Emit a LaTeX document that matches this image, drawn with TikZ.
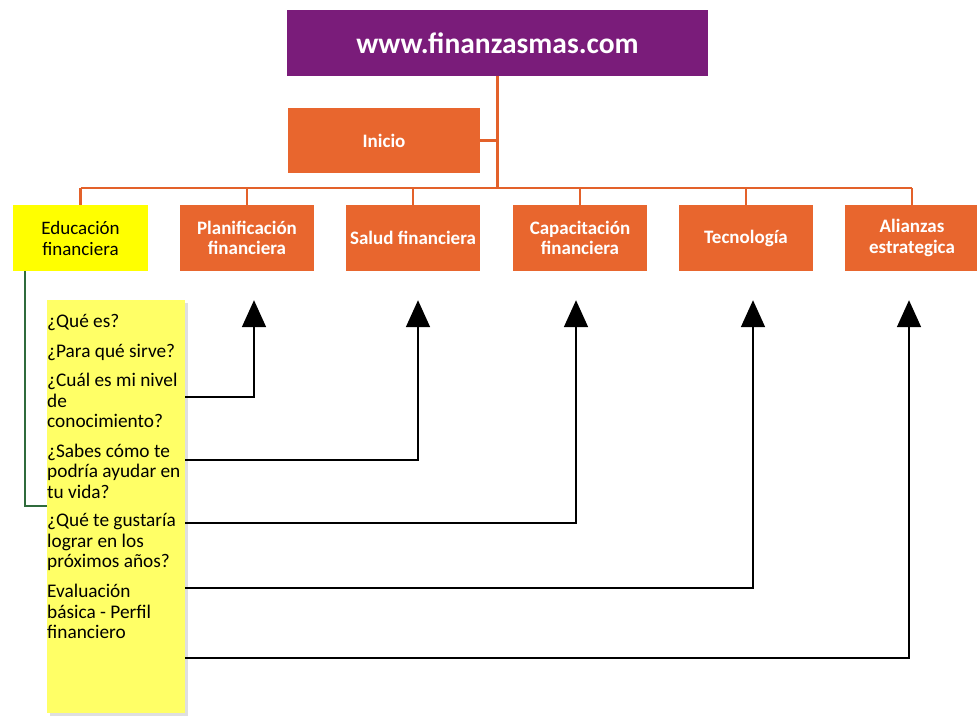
\documentclass[tikz,border=0pt]{standalone}
\usepackage{fontspec}
\setmainfont{Carlito}
\usetikzlibrary{arrows.meta,shadows}
\definecolor{purp}{HTML}{7A1C7A}
\definecolor{orng}{HTML}{E8662E}
\definecolor{oline}{HTML}{E3612A}
\definecolor{ylw}{HTML}{FFFF00}
\definecolor{pylw}{HTML}{FFFF66}
\definecolor{grn}{HTML}{2F6B3C}
\tikzset{
  obox/.style={fill=orng, text=white, font=\bfseries\fontsize{19}{20.5}\selectfont, align=center,
    minimum width=134pt, minimum height=66pt, inner sep=0pt},
  oline/.style={draw=oline, line width=2.2pt},
  qtext/.style={anchor=west, align=left, inner sep=0pt,
    font=\fontsize{19.3}{20.4}\selectfont, text=black},
  arr/.style={draw=black, line width=1.8pt, -{Triangle[width=24pt,length=27pt]}},
}
\begin{document}
\begin{tikzpicture}[x=1pt,y=-1pt]
\useasboundingbox (0,0) rectangle (977,717);
% top
\node[fill=purp, text=white, font=\bfseries\fontsize{29.5}{32}\selectfont, minimum width=421pt, minimum height=66pt, inner sep=0pt] (web) at (497.5,43) {www.finanzasmas.com};
\node[obox, minimum width=192pt, minimum height=65pt] (inicio) at (384,140.5) {Inicio};
\coordinate (hub) at (497,188);
% second row
\node[fill=ylw, text=black, font=\fontsize{19}{21}\selectfont, align=center, minimum width=135pt, minimum height=66pt, inner sep=0pt] (edu) at (80.5,238) {Educación\\financiera};
\node[obox] (plan) at (247,238) {Planificación\\financiera};
\node[obox] (salud) at (413,238) {Salud financiera};
\node[obox] (cap) at (580,238) {Capacitación\\financiera};
\node[obox] (tec) at (746,238) {Tecnología};
\node[obox] (ali) at (912,238) {Alianzas\\estrategica};
% orange connectors
\draw[oline] (web.south) -- (web.south |- hub);
\draw[oline] (inicio.east) -- (inicio.east -| web.south);
\draw[oline] (edu.north |- hub) -- (ali.north |- hub);
\foreach \n in {edu,plan,salud,cap,tec,ali} \draw[oline] (\n.north |- hub) -- (\n.north);
% question box
\node[fill=pylw, minimum width=138pt, minimum height=413pt, inner sep=0pt,
  drop shadow={opacity=0.25, shadow xshift=3pt, shadow yshift=-3pt}] (qbox) at (116,506.5) {};
\node[qtext] (q1) at (47,323) {¿Qué es?};
\node[qtext] (q2) at (47,352) {¿Para qué sirve?};
\node[qtext] (q3) at (47,400.5) {¿Cuál es mi nivel\\de\\conocimiento?};
\node[qtext] (q4) at (47,471) {¿Sabes cómo te\\podría ayudar en\\tu vida?};
\node[qtext] (q5) at (47,542) {¿Qué te gustaría\\lograr en los\\próximos años?};
\node[qtext] (q6) at (47,611.5) {Evaluación\\básica - Perfil\\financiero};
% green connector
\draw[draw=grn, line width=2pt] ([xshift=-55.5pt]edu.south) |- (qbox.west |- 0,506);
% arrows
\coordinate (c1) at (qbox.east |- 0,397);
\coordinate (c2) at (qbox.east |- 0,460);
\coordinate (c3) at (qbox.east |- 0,523);
\coordinate (c4) at (qbox.east |- 0,588);
\coordinate (c5) at (qbox.east |- 0,658);
\draw[arr] (c1) -| ([xshift=7pt,yshift=-29pt]plan.south);
\draw[arr] (c2) -| ([xshift=5pt,yshift=-29pt]salud.south);
\draw[arr] (c3) -| ([xshift=-4pt,yshift=-29pt]cap.south);
\draw[arr] (c4) -| ([xshift=7pt,yshift=-29pt]tec.south);
\draw[arr] (c5) -| ([xshift=-3pt,yshift=-29pt]ali.south);
\end{tikzpicture}
\end{document}
